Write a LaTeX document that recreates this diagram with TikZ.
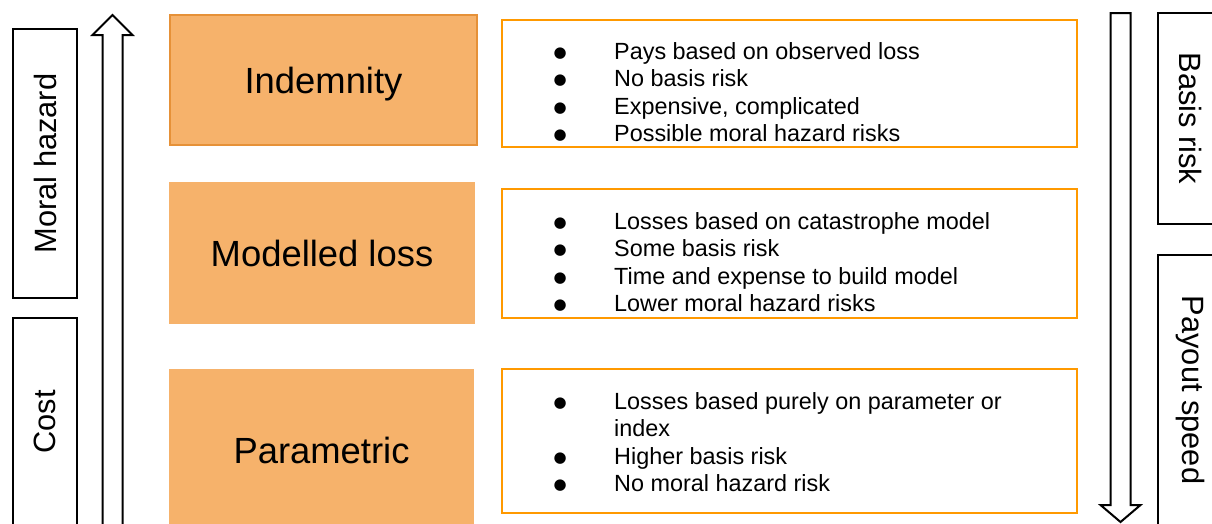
\documentclass[tikz,border=0pt]{standalone}
\usepackage{fontspec}
\setmainfont{Liberation Sans}
\newfontfamily\dotfont{DejaVu Sans}
\usepackage{tikz}
\definecolor{kindfill}{HTML}{F6B26B}
\definecolor{kindline}{HTML}{E69138}
\definecolor{listline}{HTML}{FF9900}
\newcommand{\pointitem}[1]{\makebox[20pt]{\raisebox{2pt}{\dotfont\fontsize{15}{15}\selectfont ●}}\hspace{44pt}#1\\}
\tikzset{
    kind/.style={rectangle, fill=kindfill, inner sep=0pt, text centered, text depth=0pt, font=\fontsize{36.4}{40}\selectfont},
    list/.style={rectangle, draw=listline, line width=2pt, inner sep=0pt},
    points/.style={anchor=north west, inner sep=0pt, font=\fontsize{23.4}{27.3}\selectfont},
    side/.style={rectangle, draw=black, line width=2pt, inner sep=0pt, font=\fontsize{30.8}{34}\selectfont},
    bigarrow/.style={draw=black, line width=2pt, fill=white, line join=miter},
}

\begin{document}
\begin{tikzpicture}[x=1pt, y=-1pt]
    \useasboundingbox (0,0) rectangle (1212,523);

    % side labels
    \node [side, minimum width=269pt, minimum height=64pt, rotate=90] (moral) at (45,163.5) {Moral hazard};
    \node [side, minimum width=208pt, minimum height=64pt, rotate=90] (cost) at (45,422) {Cost};
    \node [side, minimum width=211pt, minimum height=64pt, rotate=-90] (basis) at (1190,118.5) {Basis risk};
    \node [side, minimum width=270pt, minimum height=64pt, rotate=-90] (payout) at (1190,390) {Payout speed};

    % arrows
    \draw [bigarrow] (102.5,530) -- (102.5,35) -- (92.5,35) -- (112.5,15) -- (132.5,35) -- (122.5,35) -- (122.5,530);
    \draw [bigarrow] (1110.5,13) -- (1130.5,13) -- (1130.5,505) -- (1140.5,505) -- (1120.5,522) -- (1100.5,505) -- (1110.5,505) -- cycle;

    % kinds of trigger
    \node [kind, draw=kindline, line width=2pt, minimum width=307pt, minimum height=130pt] (ind) at (323.5,80) {Indemnity};
    \node [kind, minimum width=306pt, minimum height=142pt] (mod) at (322,253) {Modelled loss};
    \node [kind, minimum width=305pt, minimum height=162pt] (par) at (321.5,450) {Parametric};

    \node [list, minimum width=575pt, minimum height=127pt] (T1) at (789.5,83.5) {};
    \node [list, minimum width=575pt, minimum height=129pt] (T2) at (789.5,253) {};
    \node [list, minimum width=575pt, minimum height=143.5pt] (T3) at (789.5,440.75) {};

    \node [points] (L1) at (550,40.2) {\begin{tabular}{@{}l@{}}
        \pointitem{Pays based on observed loss}
        \pointitem{No basis risk}
        \pointitem{Expensive, complicated}
        \pointitem{Possible moral hazard risks}
    \end{tabular}};
    \node [points] (L2) at (550,210.2) {\begin{tabular}{@{}l@{}}
        \pointitem{Losses based on catastrophe model}
        \pointitem{Some basis risk}
        \pointitem{Time and expense to build model}
        \pointitem{Lower moral hazard risks}
    \end{tabular}};
    \node [points] (L3) at (550,390.2) {\begin{tabular}{@{}l@{}}
        \pointitem{Losses based purely on parameter or}
        \makebox[20pt]{}\hspace{44pt}index\\
        \pointitem{Higher basis risk}
        \pointitem{No moral hazard risk}
    \end{tabular}};
\end{tikzpicture}
\end{document}
